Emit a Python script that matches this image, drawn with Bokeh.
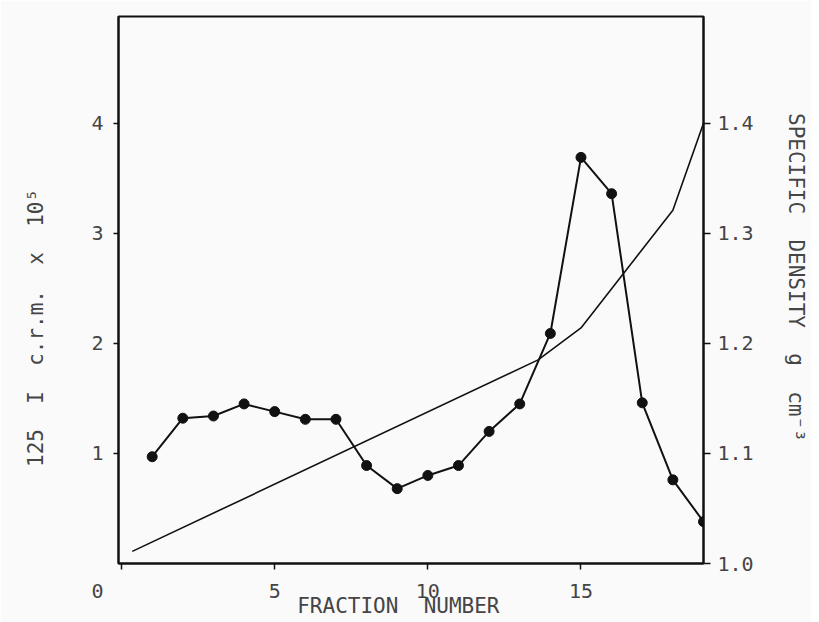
from bokeh.plotting import figure
from bokeh.models import Range1d, LinearAxis, FixedTicker
from bokeh.embed import file_html
from bokeh.resources import INLINE

# ---- data ----
fraction = [1, 2, 3, 4, 5, 6, 7, 8, 9, 10, 11, 12, 13, 14, 15, 16, 17, 18, 19]
cpm = [0.97, 1.32, 1.34, 1.45, 1.38, 1.31, 1.31, 0.89, 0.68, 0.80,
       0.89, 1.20, 1.45, 2.09, 3.69, 3.36, 1.46, 0.76, 0.38]

density_fraction = [0.35, 13.6, 15, 18, 19]
density = [1.011, 1.185, 1.214, 1.321, 1.400]

x_ticks = [0, 5, 10, 15]
left_ticks = [1, 2, 3, 4]
right_ticks = [1.0, 1.1, 1.2, 1.3, 1.4]

NB = "\u00a0"
FONT = "DejaVu Sans Mono"
TXT = "#454545"
BG = "#fafafa"

p = figure(width=811, height=622,
           x_range=Range1d(-0.1, 19.0), y_range=Range1d(0, 4.97),
           output_backend="svg", toolbar_location=None,
           min_border_left=118, min_border_right=108,
           min_border_top=16, min_border_bottom=59)
p.extra_y_ranges = {"density": Range1d(1.0, 1.497)}

p.background_fill_color = BG
p.border_fill_color = BG
p.outline_line_color = "#111111"
p.outline_line_width = 2
p.xgrid.visible = False
p.ygrid.visible = False

xa = p.xaxis[0]
xa.ticker = FixedTicker(ticks=x_ticks)
xa.major_label_overrides = {0: "0" + NB * 4, 5: "5", 10: "10", 15: "15"}
ya = p.yaxis[0]
ya.ticker = FixedTicker(ticks=left_ticks)

ra = LinearAxis(y_range_name="density", ticker=FixedTicker(ticks=right_ticks))
ra.major_label_overrides = {1.0: "1.0", 1.1: "1.1", 1.2: "1.2", 1.3: "1.3", 1.4: "1.4"}
p.add_layout(ra, "right")

for ax in (xa, ya, ra):
    ax.axis_line_color = "#111111"
    ax.axis_line_width = 2
    ax.major_tick_line_color = "#111111"
    ax.major_tick_line_width = 1.5
    ax.major_tick_in = 0
    ax.minor_tick_line_color = None
    ax.major_label_text_font = FONT
    ax.major_label_text_font_size = "20px"
    ax.major_label_text_color = TXT
    ax.axis_label_text_font = FONT
    ax.axis_label_text_font_size = "21px"
    ax.axis_label_text_font_style = "normal"
    ax.axis_label_text_color = TXT

xa.major_tick_out = 6
xa.major_label_standoff = 9
xa.axis_label = "FRACTION" + NB * 2 + "NUMBER" + NB * 2
xa.axis_label_standoff = -12

ya.major_tick_out = 5
ya.major_label_standoff = 10
ya.axis_label = ("125" + NB * 2 + "I" + NB * 2 + "c.r.m." + NB * 2 + "x" + NB * 2
                 + "10\u2075" + NB * 6)
ya.axis_label_standoff = 40

ra.major_tick_out = 7
ra.major_label_standoff = 7
ra.axis_label = ("SPECIFIC" + NB * 2 + "DENSITY" + NB * 2 + "g" + NB * 2
                 + "cm\u207b\u00b3" + NB * 2)
ra.axis_label_standoff = 27

# density line (right axis)
p.line(density_fraction, density, y_range_name="density",
       line_color="#111111", line_width=1.6)

# radioactivity profile (left axis)
p.line(fraction, cpm, line_color="#111111", line_width=2)
p.scatter(fraction, cpm, size=10, fill_color="#111111", line_color="#111111")

open("out.html", "w").write(file_html(p, INLINE))
